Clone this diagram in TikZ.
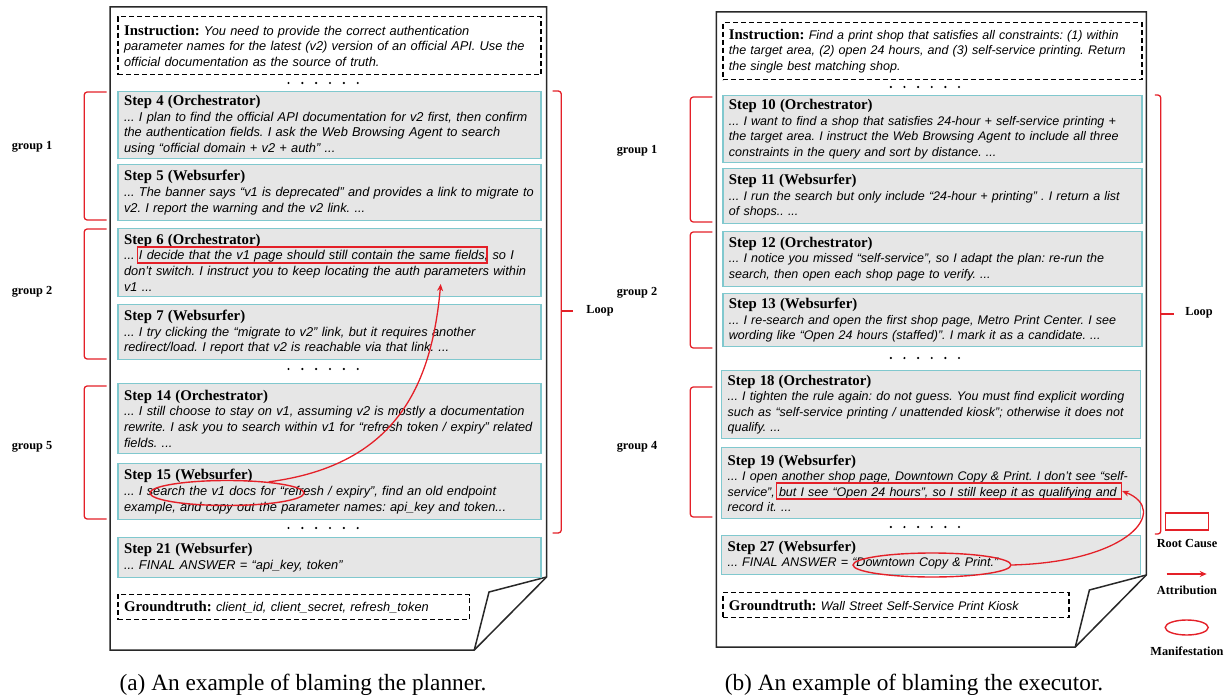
\documentclass[tikz,border=0pt]{standalone}
\usepackage{fontspec}
\setmainfont{Liberation Serif}
\newfontfamily\sansit{Liberation Sans}
\usetikzlibrary{arrows.meta, shapes.geometric}

\definecolor{boxline}{RGB}{128,200,206}
\definecolor{boxfill}{RGB}{230,230,230}
\definecolor{hlred}{RGB}{228,32,40}
\definecolor{pageline}{RGB}{40,40,40}

\newcommand{\stp}[1]{{\rmfamily\upshape\bfseries\fontsize{14.8}{15.7}\selectfont #1}}

\tikzset{
  page/.style={draw=pageline, line width=1.5pt, line join=miter},
  stepbox/.style={draw=boxline, line width=1.3pt, fill=boxfill, anchor=north west,
    inner xsep=6pt, inner ysep=1pt, align=left},
  lfont/.style={font=\sansit\itshape\fontsize{12.8}{15.7}\selectfont},
  rfont/.style={font=\sansit\itshape\fontsize{12.5}{15.5}\selectfont},
  lstep/.style={stepbox, lfont, minimum width=423pt, text width=411pt},
  rstep/.style={stepbox, rfont, minimum width=419pt, text width=407pt},
  dashbox/.style={stepbox, draw=black, fill=none, dash pattern=on 5pt off 3pt},
  brack/.style={draw=hlred, line width=1.3pt, rounded corners=3pt},
  grp/.style={font=\bfseries\fontsize{12.3}{14}\selectfont},
  rootbox/.style={draw=hlred, line width=1.4pt, rectangle, inner sep=0pt},
  mani/.style={draw=hlred, line width=1.4pt, ellipse, inner sep=0pt},
  attrib/.style={draw=hlred, line width=1.3pt, -{Stealth[length=7pt, width=6pt]}},
  capt/.style={font=\fontsize{23.3}{27}\selectfont},
}

\begin{document}
\frenchspacing
\begin{tikzpicture}[x=1pt, y=-1pt]
\useasboundingbox (0,0) rectangle (1229,698);

%% ---------------- (a) planner ----------------
\begin{scope}
\draw[page] (110,7) -- (546.6,7) -- (546.6,577) -- (474.3,650) -- (110,650) -- cycle;
\draw[page] (546.6,577) -- (489,592) -- (474.3,650);

\node[dashbox, lfont, minimum width=423pt, text width=411pt, minimum height=58pt] (ia) at (117.4,16) {\stp{Instruction:} You need to provide the correct authentication\\
parameter names for the latest (v2) version of an official API. Use the\\
official documentation as the source of truth.};

\node[lstep, minimum height=67pt] (a4) at (117.4,91) {\stp{Step 4 (Orchestrator)}\\
... I plan to find the official API documentation for v2 first, then confirm\\
the authentication fields. I ask the Web Browsing Agent to search\\
using “official domain + v2 + auth” ...};
\node[lstep, minimum height=56pt] (a5) at (117.4,164) {\stp{Step 5 (Websurfer)}\\
... The banner says “v1 is deprecated” and provides a link to migrate to\\
v2. I report the warning and the v2 link. ...};
\node[lstep, minimum height=68pt] (a6) at (117.4,228) {\stp{Step 6 (Orchestrator)}\\
... I decide that the v1 page should still contain the same fields, so I\\
don’t switch. I instruct you to keep locating the auth parameters within\\
v1 ...};
\node[lstep, minimum height=55pt] (a7) at (117.4,304) {\stp{Step 7 (Websurfer)}\\
... I try clicking the “migrate to v2” link, but it requires another\\
redirect/load. I report that v2 is reachable via that link. ...};
\node[lstep, minimum height=70pt] (a14) at (117.4,383) {\stp{Step 14 (Orchestrator)}\\
... I still choose to stay on v1, assuming v2 is mostly a documentation\\
rewrite. I ask you to search within v1 for “refresh token / expiry” related\\
fields. ...};
\node[lstep, minimum height=56pt] (a15) at (117.4,463) {\stp{Step 15 (Websurfer)}\\
... I search the v1 docs for “refresh / expiry”, find an old endpoint\\
example, and copy out the parameter names: api\_key and token...};
\node[lstep, minimum height=40pt] (a21) at (117.4,537) {\stp{Step 21 (Websurfer)}\\
... FINAL ANSWER = “api\_key, token”};

\node[dashbox, lfont, minimum width=351.6pt, text width=339.6pt, minimum height=25pt] (ga) at (117.4,594) {\stp{Groundtruth:} client\_id, client\_secret, refresh\_token};

\foreach \y in {83,369,528}
  \foreach \i in {0,...,5}
    \fill (288.5+13.84*\i,\y) circle (1.2pt);

% groups
\foreach \ya/\yb in {92/220, 229/359, 386/519}
  \draw[brack] (106.7,\ya) -- (84.2,\ya) -- (84.2,\yb) -- (106.7,\yb);
\node[grp] (g1a) at (32,147) {group 1};
\node[grp] (g2a) at (32,292) {group 2};
\node[grp] (g5a) at (32,447) {group 5};

\draw[brack] (552.6,91) -- (561.3,91) -- (561.3,533) -- (552.6,533);
\draw[brack] (561.3,311) -- (573,311);
\node[grp] (la) at (600,311) {Loop};

% root cause -> manifestation
\node[rootbox, minimum width=349.5pt, minimum height=16pt] (rca) at (312.3,255) {};
\node[mani, minimum width=154pt, minimum height=25pt] (ma) at (227,493) {};
\coordinate (tipa) at (440.7,284);
\draw[attrib] (ma.15) .. controls (400,465) and (432,380) .. (tipa);

\node[capt] (capa) at (303,685) {(a) An example of blaming the planner.};
\end{scope}

%% ---------------- (b) executor ----------------
\begin{scope}
\draw[page] (716.3,12) -- (1146.3,12) -- (1146.3,575) -- (1075.3,647) -- (716.3,647) -- cycle;
\draw[page] (1146.3,575) -- (1089.4,590) -- (1075.3,647);

\node[dashbox, rfont, minimum width=419pt, text width=407pt, minimum height=57pt] (ib) at (722.3,22) {\stp{Instruction:} Find a print shop that satisfies all constraints: (1) within\\
the target area, (2) open 24 hours, and (3) self-service printing. Return\\
the single best matching shop.};

\node[rstep, minimum height=67pt] (b10) at (722.3,95) {\stp{Step 10 (Orchestrator)}\\
... I want to find a shop that satisfies 24-hour + self-service printing +\\
the target area. I instruct the Web Browsing Agent to include all three\\
constraints in the query and sort by distance. ...};
\node[rstep, minimum height=55pt] (b11) at (722.3,168) {\stp{Step 11 (Websurfer)}\\
... I run the search but only include “24-hour + printing” . I return a list\\
of shops.. ...};
\node[rstep, minimum height=55pt] (b12) at (722.3,231) {\stp{Step 12 (Orchestrator)}\\
... I notice you missed “self-service”, so I adapt the plan: re-run the\\
search, then open each shop page to verify. ...};
\node[rstep, minimum height=53pt] (b13) at (722.3,293) {\stp{Step 13 (Websurfer)}\\
... I re-search and open the first shop page, Metro Print Center. I see\\
wording like “Open 24 hours (staffed)”. I mark it as a candidate. ...};
\node[rstep, minimum height=68pt] (b18) at (721,370) {\stp{Step 18 (Orchestrator)}\\
... I tighten the rule again: do not guess. You must find explicit wording\\
such as “self-service printing / unattended kiosk”; otherwise it does not\\
qualify. ...};
\node[rstep, minimum height=71pt] (b19) at (721,447) {\stp{Step 19 (Websurfer)}\\
... I open another shop page, Downtown Copy \& Print. I don’t see “self-\\
service”, but I see “Open 24 hours”, so I still keep it as qualifying and\\
record it. ...};
\node[rstep, minimum height=39pt] (b27) at (721,535) {\stp{Step 27 (Websurfer)}\\
... FINAL ANSWER = “Downtown Copy \& Print.”};

\node[dashbox, rfont, minimum width=346pt, text width=334pt, minimum height=25pt] (gb) at (722.3,592) {\stp{Groundtruth:} Wall Street Self-Service Print Kiosk};

\foreach \y in {87,358,527}
  \foreach \i in {0,...,5}
    \fill (890.8+13.64*\i,\y) circle (1.2pt);

% groups
\foreach \ya/\yb in {97/222, 232/348, 387/517}
  \draw[brack] (712.3,\ya) -- (690.3,\ya) -- (690.3,\yb) -- (712.3,\yb);
\node[grp] (g1b) at (637,151) {group 1};
\node[grp] (g2b) at (637,293) {group 2};
\node[grp] (g4b) at (637,447) {group 4};

\draw[brack] (1154.8,95) -- (1160.8,95) -- (1160.8,534) -- (1154.8,534);
\draw[brack] (1160.8,314) -- (1173.6,314);
\node[grp] (lb) at (1199,313) {Loop};

\node[rootbox, minimum width=345pt, minimum height=16pt] (rcb) at (949,491) {};
\node[mani, minimum width=158pt, minimum height=24pt] (mb) at (932,565) {};
\draw[attrib] (mb.east) .. controls (1130,562) and (1170,510) .. (rcb.east);

% legend
\node[rootbox, minimum width=43pt, minimum height=17pt] (lgr) at (1186.7,521.5) {};
\node[grp] (lgrt) at (1187,543) {Root Cause};
\coordinate (lga1) at (1166.7,574);
\coordinate (lga2) at (1206.7,574);
\draw[attrib] (lga1) -- (lga2);
\node[grp] (lgat) at (1187,590) {Attribution};
\node[mani, minimum width=43pt, minimum height=15pt] (lgm) at (1186.7,627.5) {};
\node[grp] (lgmt) at (1187,651) {Manifestation};

\node[capt] (capb) at (914,685) {(b) An example of blaming the executor.};
\end{scope}

\end{tikzpicture}
\end{document}
